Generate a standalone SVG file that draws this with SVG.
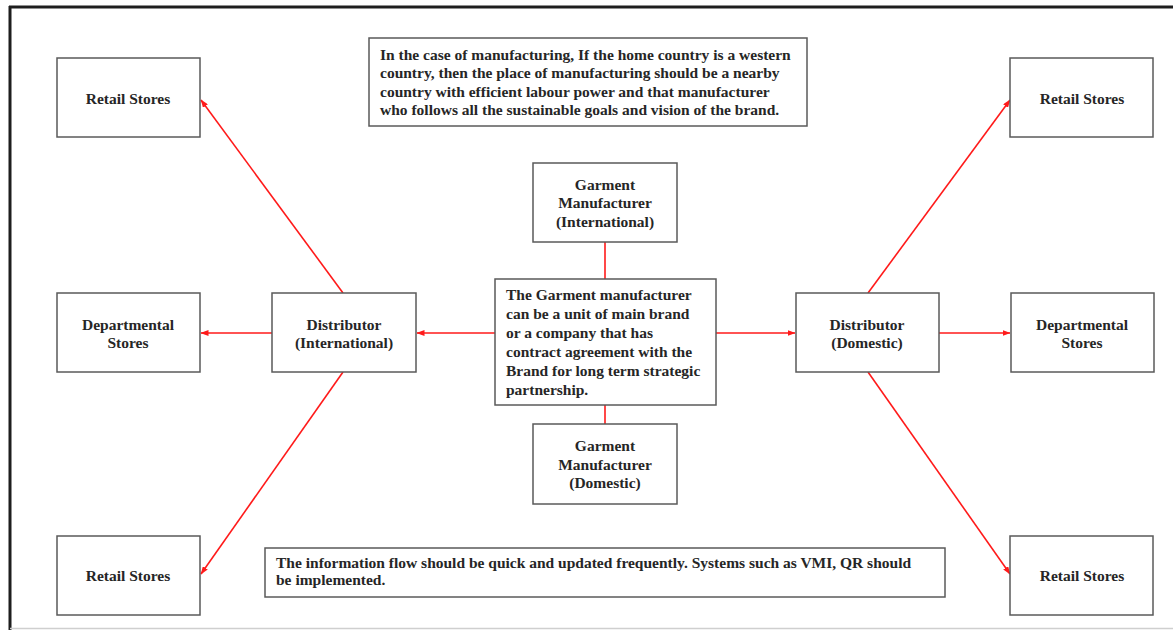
<svg xmlns="http://www.w3.org/2000/svg" width="1173" height="630" viewBox="0 0 1173 630">
  <style>
    .box { fill: #ffffff; stroke: #5a5a5a; stroke-width: 1.5; }
    .lbl { font-family: "Liberation Serif", "Times New Roman", serif; font-weight: bold; font-size: 15.5px; fill: #262626; }
    .mid { text-anchor: middle; }
    .link { stroke: #ff1a1a; stroke-width: 1.6; fill: none; }
    .arrow { marker-end: url(#head); }
  </style>
  <defs>
    <marker id="head" viewBox="0 0 8 6" refX="7.5" refY="3" markerWidth="8" markerHeight="6" markerUnits="userSpaceOnUse" orient="auto">
      <path d="M0,0 L8,3 L0,6 Z" fill="#ff1a1a"/>
    </marker>
  </defs>

  <rect width="1173" height="630" fill="#ffffff"/>

  <!-- page frame -->
  <g id="frame">
    <line x1="9" y1="7" x2="1173" y2="7" stroke="#1e1e1e" stroke-width="3"/>
    <line x1="10" y1="6" x2="10" y2="630" stroke="#1e1e1e" stroke-width="3"/>
    <line x1="10" y1="628.5" x2="1173" y2="628.5" stroke="#cfcfcf" stroke-width="1.5"/>
  </g>

  <!-- connectors -->
  <g id="connectors">
    <line class="link" x1="605" y1="242" x2="605" y2="279"/>
    <line class="link" x1="605" y1="405" x2="605" y2="424"/>
    <line class="link arrow" x1="495" y1="333" x2="417" y2="333"/>
    <line class="link arrow" x1="716" y1="333" x2="795" y2="333"/>
    <line class="link arrow" x1="343" y1="293" x2="201" y2="100"/>
    <line class="link arrow" x1="272" y1="333" x2="201" y2="333"/>
    <line class="link arrow" x1="343" y1="372" x2="201" y2="574"/>
    <line class="link arrow" x1="868" y1="293" x2="1010" y2="100"/>
    <line class="link arrow" x1="939" y1="333" x2="1010" y2="333"/>
    <line class="link arrow" x1="868" y1="372" x2="1010" y2="574"/>
  </g>

  <g id="note-manufacturing">
    <rect class="box" x="369" y="38" width="438" height="88"/>
    <text class="lbl" x="380" y="60">In the case of manufacturing, If the home country is a western</text>
    <text class="lbl" x="380" y="78">country, then the place of manufacturing should be a nearby</text>
    <text class="lbl" x="380" y="97">country with efficient labour power and that manufacturer</text>
    <text class="lbl" x="380" y="115">who follows all the sustainable goals and vision of the brand.</text>
  </g>

  <g id="garment-international">
    <rect class="box" x="533" y="163" width="144" height="79"/>
    <text class="lbl mid" x="605" y="190">Garment</text>
    <text class="lbl mid" x="605" y="208">Manufacturer</text>
    <text class="lbl mid" x="605" y="227">(International)</text>
  </g>

  <g id="garment-manufacturer">
    <rect class="box" x="495" y="279" width="221" height="126"/>
    <text class="lbl" x="506" y="300">The Garment manufacturer</text>
    <text class="lbl" x="506" y="319">can be a unit of main brand</text>
    <text class="lbl" x="506" y="338">or a company that has</text>
    <text class="lbl" x="506" y="357">contract agreement with the</text>
    <text class="lbl" x="506" y="376">Brand for long term strategic</text>
    <text class="lbl" x="506" y="395">partnership.</text>
  </g>

  <g id="garment-domestic">
    <rect class="box" x="533" y="424" width="144" height="80"/>
    <text class="lbl mid" x="605" y="451">Garment</text>
    <text class="lbl mid" x="605" y="470">Manufacturer</text>
    <text class="lbl mid" x="605" y="488">(Domestic)</text>
  </g>

  <g id="distributor-international">
    <rect class="box" x="272" y="293" width="144" height="79"/>
    <text class="lbl mid" x="344" y="330">Distributor</text>
    <text class="lbl mid" x="344" y="348">(International)</text>
  </g>

  <g id="distributor-domestic">
    <rect class="box" x="796" y="293" width="143" height="79"/>
    <text class="lbl mid" x="867" y="330">Distributor</text>
    <text class="lbl mid" x="867" y="348">(Domestic)</text>
  </g>

  <g id="retail-top-left">
    <rect class="box" x="57" y="58" width="143" height="79"/>
    <text class="lbl mid" x="128" y="104">Retail Stores</text>
  </g>

  <g id="departmental-left">
    <rect class="box" x="57" y="293" width="143" height="79"/>
    <text class="lbl mid" x="128" y="330">Departmental</text>
    <text class="lbl mid" x="128" y="348">Stores</text>
  </g>

  <g id="retail-bottom-left">
    <rect class="box" x="57" y="536" width="143" height="79"/>
    <text class="lbl mid" x="128" y="581">Retail Stores</text>
  </g>

  <g id="retail-top-right">
    <rect class="box" x="1010" y="58" width="143" height="79"/>
    <text class="lbl mid" x="1082" y="104">Retail Stores</text>
  </g>

  <g id="departmental-right">
    <rect class="box" x="1011" y="293" width="143" height="79"/>
    <text class="lbl mid" x="1082" y="330">Departmental</text>
    <text class="lbl mid" x="1082" y="348">Stores</text>
  </g>

  <g id="retail-bottom-right">
    <rect class="box" x="1010" y="536" width="143" height="79"/>
    <text class="lbl mid" x="1082" y="581">Retail Stores</text>
  </g>

  <g id="note-information">
    <rect class="box" x="265" y="548" width="680" height="49"/>
    <text class="lbl" x="276" y="568">The information flow should be quick and updated frequently. Systems such as VMI, QR should</text>
    <text class="lbl" x="276" y="585">be implemented.</text>
  </g>
</svg>
